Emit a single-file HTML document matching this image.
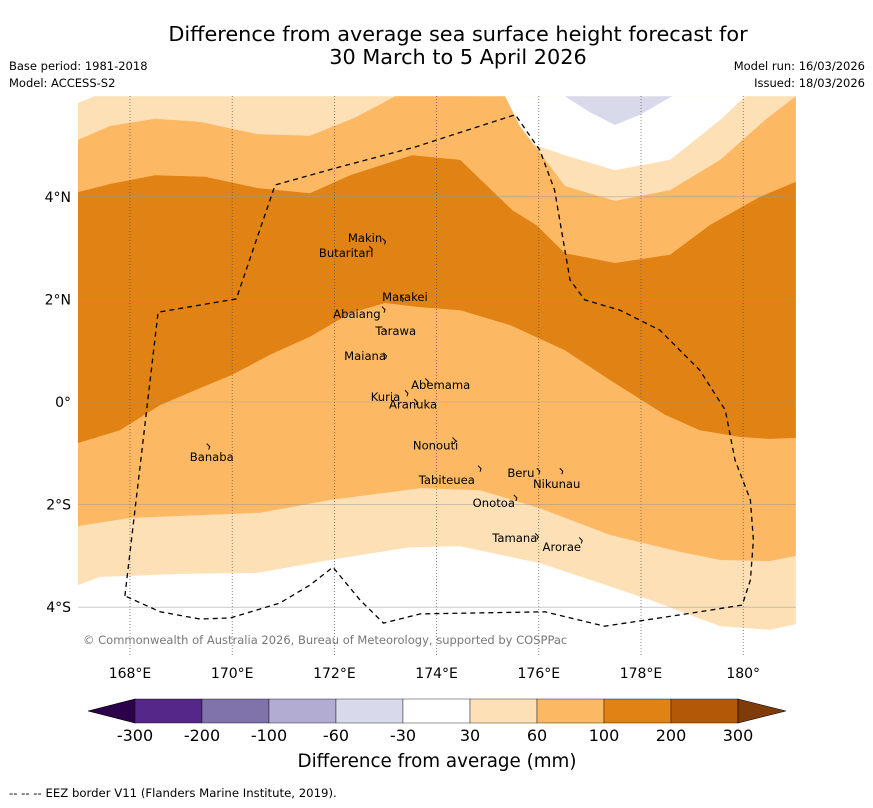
<!DOCTYPE html>
<html><head><meta charset="utf-8"><style>
body{margin:0;background:#fff;font-family:"DejaVu Sans","Liberation Sans",sans-serif;}
svg text{font-family:"DejaVu Sans","Liberation Sans",sans-serif;}
</style></head><body>
<svg id="chart" width="873" height="804" viewBox="0 0 873 804">
<text x="458" y="41" font-size="20.8" text-anchor="middle">Difference from average sea surface height forecast for</text>
<text x="458" y="64" font-size="20.8" text-anchor="middle">30 March to 5 April 2026</text>
<text x="9" y="70" font-size="11.5">Base period: 1981-2018</text>
<text x="9" y="87" font-size="11.5">Model: ACCESS-S2</text>
<text x="865" y="70" font-size="11.5" text-anchor="end">Model run: 16/03/2026</text>
<text x="865" y="87" font-size="11.5" text-anchor="end">Issued: 18/03/2026</text>
<defs><clipPath id="mapclip"><rect x="78" y="96" width="718" height="559"/></clipPath></defs>
<g id="map" clip-path="url(#mapclip)"></g>
<g id="overlay"></g>
<g id="cbar"></g>
<text x="437" y="767" font-size="18.3" text-anchor="middle">Difference from average (mm)</text>
<text x="9" y="797" font-size="11.7">--  --  -- EEZ border V11 (Flanders Marine Institute, 2019).</text>
</svg>
<script>
// contour data (lon, lat)
const lightTopLon=[166.98,181.03];
const lightTopLat=[5.96,5.96];
const lightBotLon=[166.98,167.41,168,168.98,170.5,171.91,173.48,174.46,176.02,177.2,178.18,179.55,180.52,181.03];
const lightBotLat=[-3.57,-3.41,-3.39,-3.35,-3.33,-3.08,-2.83,-2.81,-3.14,-3.53,-3.86,-4.37,-4.44,-4.33];
const whiteTopLon=[166.98,167.31,166.98,174.65,175.63,176.51,177.49,178.57,179.55,180.04];
const whiteTopLat=[5.96,5.96,5.83,5.96,5.11,4.81,4.52,4.72,5.5,5.96];
const purpleLon=[176.51,177.0,177.49,177.98,178.61];
const purpleLat=[5.96,5.65,5.4,5.6,5.96];
const midTopLon=[166.98,167.61,168.49,169.37,170.5,171.52,172.4,173.19,175.34,175.63,176.51,177.49,178.57,179.55,180.43,181.03];
const midTopLat=[5.11,5.38,5.52,5.46,5.22,5.19,5.54,5.96,5.96,5.38,4.21,3.92,4.13,4.72,5.5,5.96];
const midBotLon=[166.98,168,170.54,171.91,173.68,174.85,176.02,177.39,178.76,179.55,180.52,181.03];
const midBotLat=[-2.42,-2.26,-2.16,-1.91,-1.68,-1.72,-2.07,-2.59,-2.92,-3.08,-3.1,-3.0];
const darkTopLon=[166.98,167.61,168.49,169.47,170.5,171.52,172.31,173.52,174.46,175.48,175.95,176.51,177.49,178.57,179.35,180.33,181.03];
const darkTopLat=[4.09,4.25,4.42,4.39,4.17,4.07,4.42,4.81,4.72,3.74,3.45,2.9,2.71,2.87,3.45,4.0,4.29];
const darkBotLon=[166.98,167.8,168.59,169.37,170,170.74,171.52,172.31,172.99,173.68,174.46,175.44,176.51,177.39,178.47,179.15,179.94,180.52,181.03];
const darkBotLat=[-0.8,-0.55,-0.06,0.27,0.53,0.92,1.27,1.73,1.93,1.85,1.79,1.5,1.01,0.43,-0.25,-0.55,-0.68,-0.72,-0.7];
const eezLon=[167.9,168.55,170.08,170.84,172.02,173.58,175.54,176.02,176.31,176.61,176.9,177.59,178.37,179.15,179.65,179.84,180.14,180.2,180.14,179.98,178.76,177.29,176.12,173.68,172.96,172.5,171.97,171.52,170.93,169.96,169.37,168.59,167.9];
const eezLat=[-3.78,1.75,2.01,4.23,4.56,4.97,5.6,4.91,4.13,2.38,1.99,1.79,1.4,0.62,-0.16,-1.13,-1.91,-2.69,-3.47,-3.96,-4.15,-4.37,-4.09,-4.13,-4.31,-3.86,-3.22,-3.57,-3.92,-4.21,-4.23,-4.09,-3.78];
const lonTicks=[168,170,172,174,176,178,180];
const lonLabels=["168°E","170°E","172°E","174°E","176°E","178°E","180°"];
const latTicks=[4,2,0,-2,-4];
const latLabels=["4°N","2°N","0°","2°S","4°S"];
const islandNames=["Makin","Butaritari","Marakei","Abaiang","Tarawa","Maiana","Abemama","Kuria","Aranuka","Nonouti","Banaba","Beru","Nikunau","Tabiteuea","Onotoa","Tamana","Arorae"];
const islandLon=[172.98,172.72,173.33,172.97,173.0,173.0,173.82,173.42,173.6,174.35,169.54,176.0,176.45,174.85,175.55,175.97,176.83];
const islandLat=[3.13,2.98,2.01,1.8,1.38,0.9,0.4,0.17,0.0,-0.75,-0.87,-1.35,-1.35,-1.3,-1.87,-2.62,-2.7];
const islandLabelLon=[172.6,172.23,173.38,172.44,173.2,172.6,174.08,173.0,173.54,173.98,169.6,175.65,176.35,174.2,175.12,175.53,176.45];
const islandLabelLat=[3.2,2.9,2.05,1.72,1.38,0.9,0.33,0.1,-0.05,-0.85,-1.07,-1.38,-1.6,-1.52,-1.97,-2.65,-2.83];
const cbLevels=["-300","-200","-100","-60","-30","30","60","100","200","300"];
const cbColors=["#542788","#8073ac","#b2abd2","#d8daeb","#ffffff","#fee0b6","#fdb863","#e08214","#b35806"];

const NS="http://www.w3.org/2000/svg";
const X=lon=>130+(lon-168)*51.1;
const Y=lat=>402-lat*51.3;
function mk(tag,attrs,parent){const e=document.createElementNS(NS,tag);for(const k in attrs)e.setAttribute(k,attrs[k]);parent.appendChild(e);return e;}
function pts(lons,lats){return lons.map((l,i)=>X(l).toFixed(1)+","+Y(lats[i]).toFixed(1));}
const map=document.getElementById('map');
function band(topL,topA,botL,botA,color,name){
  const p=pts(topL,topA).concat(pts(botL,botA).reverse());
  const e=mk('polygon',{points:p.join(' '),fill:color},map);
  
  
}
band(lightTopLon,lightTopLat,lightBotLon,lightBotLat,"#fee0b6","band-30-60");
let w=mk('polygon',{points:pts(whiteTopLon.slice(0,3),whiteTopLat.slice(0,3)).join(' '),fill:"#fff"},map);


w=mk('polygon',{points:pts(whiteTopLon.slice(3),whiteTopLat.slice(3)).join(' '),fill:"#fff"},map);


w=mk('polygon',{points:pts(purpleLon,purpleLat).join(' '),fill:"#d8daeb"},map);


band(midTopLon,midTopLat,midBotLon,midBotLat,"#fdb863","band-60-100");
band(darkTopLon,darkTopLat,darkBotLon,darkBotLat,"#e08214","band-100-200");
const ov=document.getElementById('overlay');
lonTicks.forEach((l,i)=>{
  const g=mk('line',{x1:X(l),x2:X(l),y1:96,y2:655,stroke:"#555","stroke-width":0.7,"stroke-dasharray":"1,2"},ov);
  
  
  const t=mk('text',{x:X(l),y:678,"font-size":14,"text-anchor":"middle"},ov);t.textContent=lonLabels[i];
  
  
});
latTicks.forEach((l,i)=>{
  const g=mk('line',{x1:78,x2:796,y1:Y(l),y2:Y(l),stroke:"#999","stroke-width":0.6,opacity:0.8},ov);
  
  
  const t=mk('text',{x:71,y:Y(l)+5,"font-size":14,"text-anchor":"end"},ov);t.textContent=latLabels[i];
  
  
});
const ez=mk('polyline',{points:pts(eezLon,eezLat).join(' '),fill:"none",stroke:"#000","stroke-width":1.3,"stroke-dasharray":"5,4"},ov);


islandNames.forEach((n,i)=>{
  const m=mk('path',{d:`M${X(islandLon[i])-2},${Y(islandLat[i])-3} l3,3 l-1,3`,fill:"none",stroke:"#000","stroke-width":1},ov);
  
  
  const t=mk('text',{x:X(islandLabelLon[i]),y:Y(islandLabelLat[i])+4,"font-size":11.6,"text-anchor":"middle"},ov);t.textContent=n;
  
  
});
const cp=mk('text',{x:83,y:644,"font-size":11.5,fill:"#777"},ov);
cp.textContent="© Commonwealth of Australia 2026, Bureau of Meteorology, supported by COSPPac";


const cb=document.getElementById('cbar');
const cx0=135,cw=67,cy=699,ch=24;
const lt=mk('polygon',{points:`${cx0},${cy} 88,${cy+ch/2} ${cx0},${cy+ch}`,fill:"#2d004b",stroke:"#000","stroke-width":0.6},cb);


cbColors.forEach((c,i)=>{
  const r=mk('rect',{x:cx0+i*cw,y:cy,width:cw,height:ch,fill:c,stroke:"#000","stroke-width":0.4},cb);
  
  
});
const xe=cx0+cbColors.length*cw;
const rt=mk('polygon',{points:`${xe},${cy} 786,${cy+ch/2} ${xe},${cy+ch}`,fill:"#7f3b08",stroke:"#000","stroke-width":0.6},cb);


cbLevels.forEach((l,i)=>{
  const t=mk('text',{x:cx0+i*cw,y:741,"font-size":16,"text-anchor":"middle"},cb);t.textContent=l;
  
  
});
</script>
</body></html>
